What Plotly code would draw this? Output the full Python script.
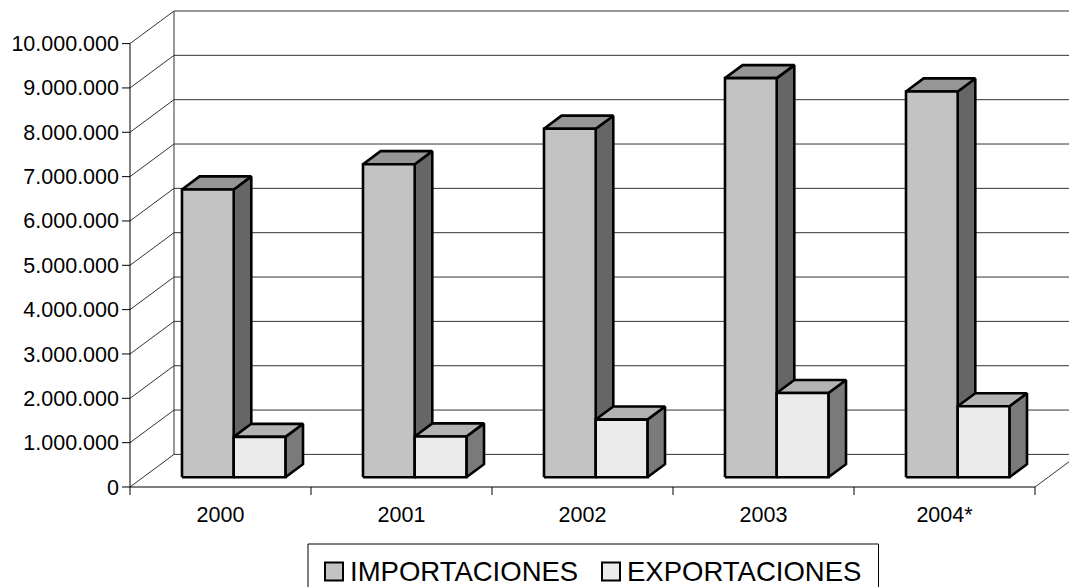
import plotly.graph_objects as go

# ---- data -------------------------------------------------------------
years = ["2000", "2001", "2002", "2003", "2004*"]
importaciones = [6490000, 7060000, 7860000, 9000000, 8700000]
exportaciones = [910000, 920000, 1300000, 1900000, 1600000]
y_tick_vals = [0, 1000000, 2000000, 3000000, 4000000, 5000000,
               6000000, 7000000, 8000000, 9000000, 10000000]
y_tick_text = ["0", "1.000.000", "2.000.000", "3.000.000", "4.000.000",
               "5.000.000", "6.000.000", "7.000.000", "8.000.000",
               "9.000.000", "10.000.000"]
series_names = ["IMPORTACIONES", "EXPORTACIONES"]

# ---- page geometry ----------------------------------------------------
W, H = 1069, 587
ML, MB = 120, 90                 # left / bottom margins (px)
PX_PER_CAT = 181.0               # px per category on the front plane
PX_PER_UNIT = 44.34 / 1e6        # px per value unit
PW, PH = W - ML, H - MB
x_lo = -10 / PX_PER_CAT
y_lo = -10 / PX_PER_UNIT
x_hi = x_lo + PW / PX_PER_CAT
y_hi = y_lo + PH / PX_PER_UNIT

# oblique depth offset of the full floor, in data units
DX = 44 / PX_PER_CAT
DY = 32.6 / PX_PER_UNIT
F0, F1 = 0.3, 0.7                # front / back depth of the columns
BW = 1 / 3.5                     # column width (gap width 150 %)
GAP = 0.75 / 3.5

FONT = "Liberation Sans, Arial, sans-serif"
EDGE = "#333333"

faces = {
    0: dict(front="#C3C3C3", top="#969696", side="#666666"),
    1: dict(front="#EBEBEB", top="#B3B3B3", side="#7A7A7A"),
}

fig = go.Figure()


def seg(xs, ys, color=EDGE, width=1):
    fig.add_trace(go.Scatter(x=xs, y=ys, mode="lines", hoverinfo="skip",
                             line=dict(color=color, width=width),
                             showlegend=False))


def poly(xs, ys, fill):
    fig.add_trace(go.Scatter(x=xs + xs[:1], y=ys + ys[:1], mode="lines",
                             fill="toself", fillcolor=fill, hoverinfo="skip",
                             line=dict(color="black", width=2.6),
                             showlegend=False))


# walls and floor
n = len(years)
for v in y_tick_vals:
    seg([0, DX], [v, v + DY])                       # side wall
    seg([DX, n + DX], [v + DY, v + DY])             # back wall
seg([DX, DX], [DY, y_tick_vals[-1] + DY])           # back-left edge
seg([n, n + DX], [0, DY])                           # floor right edge
seg([0, n], [0, 0], "black", 1)                     # category axis line
seg([0, 0], [0, y_tick_vals[-1]], "black", 1)       # value axis line

# tick marks
tick_dx = 8 / PX_PER_CAT
tick_dy = 8 / PX_PER_UNIT
for v in y_tick_vals:
    seg([0, -tick_dx], [v, v], "black", 1)
for k in range(n + 1):
    seg([k, k], [0, -tick_dy], "black", 1)

# 3-D columns
ox, oy = F0 * DX, F0 * DY
bx, by = F1 * DX, F1 * DY
for i in range(n):
    for s, vals in enumerate([importaciones, exportaciones]):
        v = vals[i]
        x0 = i + GAP + s * BW
        x1 = x0 + BW
        c = faces[s]
        poly([x1 + ox, x1 + bx, x1 + bx, x1 + ox],
             [oy, by, v + by, v + oy], c["side"])
        poly([x0 + ox, x1 + ox, x1 + bx, x0 + bx],
             [v + oy, v + oy, v + by, v + by], c["top"])
        poly([x0 + ox, x1 + ox, x1 + ox, x0 + ox],
             [oy, oy, v + oy, v + oy], c["front"])

# legend drawn in page pixels
def pxx(p):
    return (p - ML) / PW


def pxy(p):
    return (PH - p) / PH


shapes = [dict(type="rect", xref="paper", yref="paper",
               x0=pxx(308), x1=pxx(878.5), y0=pxy(600), y1=pxy(544),
               line=dict(color="black", width=1), fillcolor="white")]
annotations = []
legend_pos = [(325, 348), (602, 625)]
for s, name in enumerate(series_names):
    sx, tx = legend_pos[s]
    shapes.append(dict(type="rect", xref="paper", yref="paper",
                       x0=pxx(sx), x1=pxx(sx + 18), y0=pxy(580.5), y1=pxy(562.5),
                       line=dict(color="black", width=2),
                       fillcolor=faces[s]["front"]))
    annotations.append(dict(xref="paper", yref="paper", x=pxx(tx), y=pxy(571.5),
                            text=name, showarrow=False, xanchor="left",
                            yanchor="middle",
                            font=dict(family=FONT, size=27.5, color="black")))

fig.update_layout(
    width=W, height=H,
    margin=dict(l=ML, r=0, t=0, b=MB, pad=0),
    paper_bgcolor="white", plot_bgcolor="white",
    showlegend=False,
    shapes=shapes, annotations=annotations,
    xaxis=dict(range=[x_lo, x_hi], showgrid=False, zeroline=False,
               showline=False, ticks="",
               tickvals=[i + 0.5 for i in range(n)], ticktext=years,
               tickfont=dict(family=FONT, size=21.5, color="black"),
               ticklabelstandoff=2),
    yaxis=dict(range=[y_lo, y_hi], showgrid=False, zeroline=False,
               showline=False, ticks="",
               tickvals=y_tick_vals, ticktext=y_tick_text,
               tickfont=dict(family=FONT, size=21.5, color="black"),
               ticklabelstandoff=0),
)

fig.write_html("out.html")
